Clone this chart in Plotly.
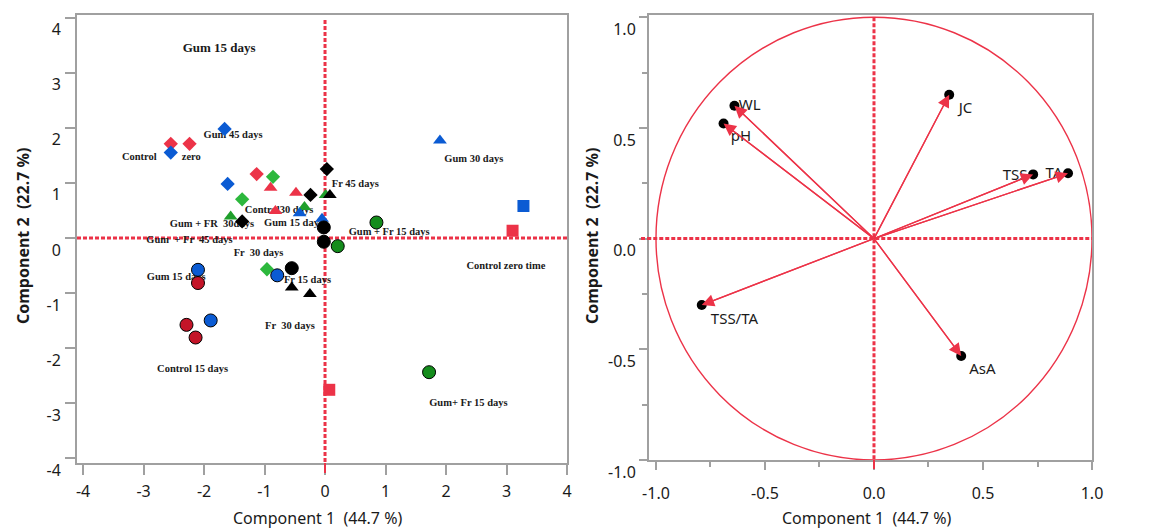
import plotly.graph_objects as go

# ---------------- Score plot data (left panel) ----------------
red_diamond_x = [-2.55, -2.24, -1.13]
red_diamond_y = [1.71, 1.71, 1.16]
blue_diamond_x = [-2.55, -1.66, -1.61]
blue_diamond_y = [1.55, 1.98, 0.98]
green_diamond_x = [-0.86, -1.37, -0.96]
green_diamond_y = [1.11, 0.70, -0.57]
black_diamond_x = [-0.24, 0.03, -1.37]
black_diamond_y = [0.78, 1.25, 0.30]
red_triangle_x = [-0.90, -0.48, -0.82]
red_triangle_y = [0.91, 0.82, 0.49]
green_triangle_x = [0.01, -0.34, -1.56]
green_triangle_y = [0.78, 0.56, 0.39]
blue_triangle_x = [-0.42, -0.05, 1.90]
blue_triangle_y = [0.45, 0.35, 1.77]
black_triangle_x = [0.08, -0.55, -0.25]
black_triangle_y = [0.78, -0.90, -1.02]
black_circle_x = [-0.02, -0.02, -0.55]
black_circle_y = [0.19, -0.07, -0.55]
green_circle_x = [0.21, 0.85, 1.72]
green_circle_y = [-0.15, 0.28, -2.44]
blue_circle_x = [-2.10, -0.79, -1.89]
blue_circle_y = [-0.58, -0.68, -1.50]
red_circle_x = [-2.10, -2.29, -2.14]
red_circle_y = [-0.82, -1.58, -1.81]
blue_square_x = [3.28]
blue_square_y = [0.58]
red_square_x = [3.10, 0.07]
red_square_y = [0.13, -2.76]

# treatment labels on the score plot
score_labels = ["Gum 15 days", "Gum 45 days", "Control", "zero", "Fr 45 days",
                "Control30 days", "Gum + FR  30days", "Gum 15 days", "Gum  + Fr  45 days",
                "Gum 30 days", "Gum + Fr 15 days", "Control zero time", "Fr  30 days",
                "Gum 15 days", "Fr 15 days", "Fr  30 days", "Control 15 days", "Gum+ Fr 15 days"]
score_label_x = [-1.75, -1.52, -3.07, -2.21, 0.50, -0.76, -1.87, -0.52, -2.24,
                 2.46, 1.06, 2.99, -1.10, -2.46, -0.29, -0.58, -2.19, 2.37]
score_label_y = [3.43, 1.86, 1.47, 1.47, 0.98, 0.50, 0.25, 0.27, -0.05,
                 1.42, 0.10, -0.52, -0.29, -0.72, -0.78, -1.60, -2.39, -3.01]

# ---------------- Loading plot data (right panel) ----------------
variables = ["WL", "pH", "JC", "TSS", "TA", "TSS/TA", "AsA"]
load_x = [-0.64, -0.69, 0.345, 0.73, 0.89, -0.79, 0.40]
load_y = [0.60, 0.52, 0.65, 0.29, 0.295, -0.30, -0.53]
var_label_x = [-0.57, -0.61, 0.42, 0.647, 0.826, -0.64, 0.497]
var_label_y = [0.60, 0.46, 0.585, 0.283, 0.292, -0.367, -0.593]

x_ticks_left = [-4, -3, -2, -1, 0, 1, 2, 3, 4]
y_ticks_left = [-4, -3, -2, -1, 0, 1, 2, 3, 4]
ticks_right = [-1.0, -0.5, 0.0, 0.5, 1.0]

RED = "#EC3348"
BLUE = "#0B5BD3"
GREEN_D = "#2DB83D"
GREEN_T = "#1F9F2B"
GREEN_C = "#148C1C"
DARKRED = "#C41428"
BLACK = "#000000"
GRAY = "#A0A0A0"
SANS = "Noto Sans"
SERIF = "Liberation Serif"

W, H = 1160, 528
fig = go.Figure()

# labels first (markers drawn above them)
fig.add_trace(go.Scatter(
    x=score_label_x, y=score_label_y, mode="text",
    text=["<b>%s</b>" % t for t in score_labels],
    textfont=dict(family=SERIF, size=[13] + [10.5] * (len(score_labels) - 1), color="#1a1a1a"),
    textposition="middle center", hoverinfo="skip", xaxis="x", yaxis="y"))

series = [
    (red_diamond_x, red_diamond_y, "diamond", RED, 11, None),
    (blue_diamond_x, blue_diamond_y, "diamond", BLUE, 11, None),
    (green_diamond_x, green_diamond_y, "diamond", GREEN_D, 11, None),
    (black_diamond_x, black_diamond_y, "diamond", BLACK, 11, None),
    (red_triangle_x, red_triangle_y, "triangle-up", RED, 12, None),
    (green_triangle_x, green_triangle_y, "triangle-up", GREEN_T, 12, None),
    (blue_triangle_x, blue_triangle_y, "triangle-up", BLUE, 12, None),
    (black_triangle_x, black_triangle_y, "triangle-up", BLACK, 12, None),
    (black_circle_x, black_circle_y, "circle", BLACK, 13, BLACK),
    (green_circle_x, green_circle_y, "circle", GREEN_C, 13, BLACK),
    (blue_circle_x, blue_circle_y, "circle", BLUE, 13, BLACK),
    (red_circle_x, red_circle_y, "circle", DARKRED, 13, BLACK),
    (blue_square_x, blue_square_y, "square", BLUE, 12, None),
    (red_square_x, red_square_y, "square", RED, 12, None),
]
for sx, sy, sym, col, sz, lc in series:
    fig.add_trace(go.Scatter(
        x=sx, y=sy, mode="markers", hoverinfo="skip",
        marker=dict(symbol=sym, color=col, size=sz,
                    line=dict(color=lc if lc else col, width=1 if lc else 0)),
        xaxis="x", yaxis="y"))

# ---------- right panel ----------
fig.add_trace(go.Scatter(
    x=load_x, y=load_y, mode="markers", hoverinfo="skip",
    marker=dict(color=BLACK, size=10), xaxis="x2", yaxis="y2"))
fig.add_trace(go.Scatter(
    x=var_label_x, y=var_label_y, mode="text", text=variables,
    textfont=dict(family=SANS, size=15, color="#1a1a1a"),
    textposition="middle center", hoverinfo="skip", xaxis="x2", yaxis="y2"))

annotations = []
for vx, vy in zip(load_x, load_y):
    annotations.append(dict(
        x=vx, y=vy, ax=0, ay=0, xref="x2", yref="y2", axref="x2", ayref="y2",
        text="", showarrow=True, arrowhead=2, arrowsize=1.9, arrowwidth=1.3,
        arrowcolor=RED))

# axis titles
title_font = dict(family=SANS, size=16, color="#1a1a1a")
annotations += [
    dict(text="Component 1  (44.7 %)", x=317 / W, y=1 - 518 / H, xref="paper", yref="paper",
         showarrow=False, font=title_font, xanchor="center", yanchor="middle"),
    dict(text="Component 1  (44.7 %)", x=866 / W, y=1 - 518 / H, xref="paper", yref="paper",
         showarrow=False, font=title_font, xanchor="center", yanchor="middle"),
    dict(text="<b>Component 2  (22.7 %)</b>", x=23 / W, y=1 - 236 / H, xref="paper", yref="paper",
         showarrow=False, font=title_font, textangle=-90, xanchor="center", yanchor="middle"),
    dict(text="<b>Component 2  (22.7 %)</b>", x=592 / W, y=1 - 236 / H, xref="paper", yref="paper",
         showarrow=False, font=title_font, textangle=-90, xanchor="center", yanchor="middle"),
]

dash_line = dict(color=RED, width=3, dash="4px,2px")
shapes = [
    # left reference lines
    dict(type="line", xref="x", yref="y", x0=-4.1, x1=4.0, y0=0, y1=0, line=dash_line, layer="below"),
    dict(type="line", xref="x", yref="y", x0=0, x1=0, y0=3.96, y1=-4.1, line=dash_line, layer="below"),
    dict(type="line", xref="x", yref="paper", x0=0, x1=0, y0=1 - 473 / H, y1=1 - 463 / H,
         line=dict(color=RED, width=2), layer="above"),
    # right reference lines
    dict(type="line", xref="x2", yref="y2", x0=-1.04, x1=1.0, y0=0, y1=0, line=dash_line, layer="below"),
    dict(type="line", xref="paper", yref="y2", x0=641 / W, x1=649 / W, y0=0, y1=0, line=dash_line, layer="above"),
    dict(type="line", xref="x2", yref="y2", x0=0, x1=0, y0=1.0, y1=-1.0, line=dash_line, layer="below"),
    dict(type="line", xref="x2", yref="paper", x0=0, x1=0, y0=1 - 469 / H, y1=1 - 460 / H,
         line=dict(color=RED, width=2), layer="above"),
    # correlation circle
    dict(type="circle", xref="x2", yref="y2", x0=-1, y0=-1, x1=1, y1=1,
         line=dict(color=RED, width=1.4), layer="below"),
]
# spokes from origin drawn as line shapes under arrowheads
for vx, vy in zip(load_x, load_y):
    shapes.append(dict(type="line", xref="x2", yref="y2", x0=0, y0=0, x1=vx, y1=vy,
                       line=dict(color=RED, width=1.3), layer="below"))

tick_font = dict(family=SANS, size=16, color="#1a1a1a")
axis_common = dict(showline=True, mirror=True, linecolor=GRAY, linewidth=2,
                   showgrid=False, zeroline=False, ticks="outside", tickcolor=GRAY,
                   tickwidth=1.5, tickfont=tick_font, automargin=False,
                   ticklabeloverflow="allow")

fig.update_layout(
    width=W, height=H, margin=dict(l=0, r=0, t=0, b=0, pad=0, autoexpand=False),
    paper_bgcolor="white", plot_bgcolor="white", showlegend=False,
    xaxis=dict(domain=[77 / W, 567 / W], range=[-4.1, 4.0], tickvals=x_ticks_left,
               ticktext=[str(v) for v in x_ticks_left], ticklen=10, ticklabelstandoff=3,
               anchor="y", **axis_common),
    yaxis=dict(domain=[1 - 463 / H, 1 - 15 / H], range=[-4.09, 4.05], tickvals=y_ticks_left,
               ticktext=[str(v) for v in y_ticks_left], ticklen=10, ticklabelshift=12,
               ticklabelstandoff=1, anchor="x", **axis_common),
    xaxis2=dict(domain=[649 / W, 1092 / W], range=[-1.032, 1.0], tickvals=ticks_right,
                ticktext=["%.1f" % v for v in ticks_right], ticklen=8, ticklabelstandoff=10,
                anchor="y2",
                minor=dict(ticks="outside", dtick=0.25, tick0=0, ticklen=5, tickcolor=GRAY),
                **axis_common),
    yaxis2=dict(domain=[1 - 460 / H, 1 - 15 / H], range=[-1.0, 1.01], tickvals=ticks_right,
                ticktext=["%.1f" % v for v in ticks_right], ticklen=8, ticklabelshift=12,
                anchor="x2",
                minor=dict(ticks="outside", dtick=0.25, tick0=0, ticklen=5, tickcolor=GRAY),
                **axis_common),
    annotations=annotations, shapes=shapes,
)

fig.write_html("out.html", config={"displayModeBar": False},
               post_script="document.body.style.margin='0';")
